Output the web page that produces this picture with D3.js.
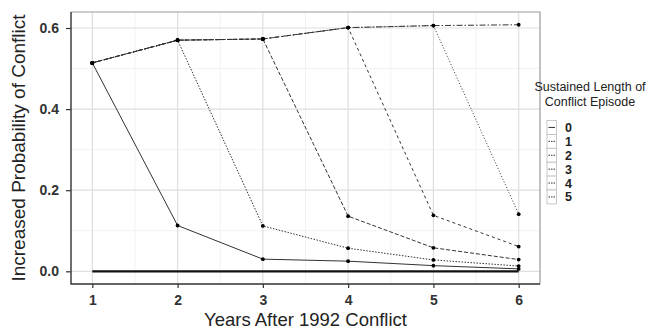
<!DOCTYPE html>
<html>
<head>
<meta charset="utf-8">
<script src="https://cdn.jsdelivr.net/npm/d3@7"></script>
<style>
  body { margin: 0; background: #fff; }
  text { font-family: "Liberation Sans", Arial, sans-serif; }
</style>
</head>
<body>
<script>
'use strict';

const years = [1, 2, 3, 4, 5, 6];
const yTicks = [0, 0.2, 0.4, 0.6];
const seriesNames = ["0", "1", "2", "3", "4", "5"];
const len0 = [0.514, 0.113, 0.030, 0.025, 0.014, 0.006];
const len1 = [0.514, 0.570, 0.112, 0.057, 0.028, 0.013];
const len2 = [0.514, 0.570, 0.573, 0.136, 0.058, 0.029];
const len3 = [0.514, 0.570, 0.573, 0.601, 0.138, 0.061];
const len4 = [0.514, 0.570, 0.573, 0.601, 0.606, 0.141];
const len5 = [0.514, 0.570, 0.573, 0.601, 0.606, 0.608];
const baseline = [0, 0, 0, 0, 0, 0];

(function() {
    const m = { width: 646, height: 331, left: 71, right: 540, top: 12, bottom: 284 };
    const allSeries = [len0, len1, len2, len3, len4, len5];
    const dashes = [null, "1.5,1.5", "4,2", "3,3", "1,2", "6,2,1.5,2"];
    const lineCol = "#333";

    const svg = d3.select('body').append('svg')
        .attr('width', m.width)
        .attr('height', m.height);

    const x = d3.scaleLinear().domain([0.75, 6.25]).range([m.left, m.right]);
    const y = d3.scaleLinear().domain([-0.0313, 0.6395]).range([m.bottom, m.top]);

    // minor grid
    const xMinor = [1.5, 2.5, 3.5, 4.5, 5.5];
    const yMinor = [0.1, 0.3, 0.5];
    svg.append('g').selectAll('line').data(xMinor).enter().append('line')
        .attr('x1', d => x(d)).attr('x2', d => x(d))
        .attr('y1', m.top).attr('y2', m.bottom)
        .attr('stroke', '#f2f2f2').attr('stroke-width', 1);
    svg.append('g').selectAll('line').data(yMinor).enter().append('line')
        .attr('y1', d => y(d)).attr('y2', d => y(d))
        .attr('x1', m.left).attr('x2', m.right)
        .attr('stroke', '#f2f2f2').attr('stroke-width', 1);

    // major grid
    svg.append('g').selectAll('line').data(years).enter().append('line')
        .attr('x1', d => x(d)).attr('x2', d => x(d))
        .attr('y1', m.top).attr('y2', m.bottom)
        .attr('stroke', '#dedede').attr('stroke-width', 1.2);
    svg.append('g').selectAll('line').data(yTicks).enter().append('line')
        .attr('y1', d => y(d)).attr('y2', d => y(d))
        .attr('x1', m.left).attr('x2', m.right)
        .attr('stroke', '#dedede').attr('stroke-width', 1.2);

    // panel border (top/right)
    svg.append('path')
        .attr('d', `M${m.left},${m.top}H${m.right}V${m.bottom}`)
        .attr('fill', 'none').attr('stroke', '#999').attr('stroke-width', 1.2);

    // baseline
    const line = d3.line().x((d, i) => x(years[i])).y(d => y(d));
    svg.append('path')
        .datum(baseline)
        .attr('d', line)
        .attr('fill', 'none')
        .attr('stroke', '#111')
        .attr('stroke-width', 2.2);

    // series lines
    allSeries.forEach((s, k) => {
        svg.append('path')
            .datum(s)
            .attr('d', line)
            .attr('fill', 'none')
            .attr('stroke', lineCol)
            .attr('stroke-width', 1)
            .attr('stroke-dasharray', dashes[k]);
    });

    // points
    allSeries.forEach((s) => {
        svg.append('g').selectAll('circle').data(s).enter().append('circle')
            .attr('cx', (d, i) => x(years[i]))
            .attr('cy', d => y(d))
            .attr('r', 1.9)
            .attr('fill', '#000');
    });

    // axes
    const xAxis = d3.axisBottom(x).tickValues(years).tickSize(4).tickPadding(7).tickFormat(d3.format('d'));
    const gx = svg.append('g')
        .attr('transform', 'translate(0,' + m.bottom + ')')
        .call(xAxis);
    const yAxis = d3.axisLeft(y).tickValues(yTicks).tickSize(5).tickPadding(7).tickFormat(d3.format('.1f'));
    const gy = svg.append('g')
        .attr('transform', 'translate(' + m.left + ',0)')
        .call(yAxis);
    [gx, gy].forEach(g => {
        g.select('.domain').remove();
        g.selectAll('.tick line').attr('stroke', '#333').attr('stroke-width', 1.2);
        g.selectAll('.tick text')
            .attr('fill', '#333')
            .style('font-size', '14px')
            .style('font-weight', 'bold');
    });
    svg.append('path')
        .attr('d', `M${m.left},${m.top}V${m.bottom}H${m.right}`)
        .attr('fill', 'none').attr('stroke', '#333').attr('stroke-width', 1.4);

    // axis titles
    svg.append('text')
        .attr('x', (m.left + m.right) / 2)
        .attr('y', 326)
        .attr('text-anchor', 'middle')
        .attr('fill', '#222')
        .style('font-size', '18.5px')
        .text('Years After 1992 Conflict');
    svg.append('text')
        .attr('transform', 'translate(25,' + (m.top + m.bottom) / 2 + ')rotate(-90)')
        .attr('text-anchor', 'middle')
        .attr('fill', '#222')
        .style('font-size', '19px')
        .text('Increased Probability of Conflict');

    // legend
    const lg = svg.append('g');
    lg.append('text').attr('x', 590).attr('y', 91).attr('text-anchor', 'middle')
        .attr('fill', '#222').style('font-size', '12.5px').text('Sustained Length of');
    lg.append('text').attr('x', 590).attr('y', 106).attr('text-anchor', 'middle')
        .attr('fill', '#222').style('font-size', '12.5px').text('Conflict Episode');
    const keyH = 13.9, keyTop = 120.5;
    seriesNames.forEach((nm, k) => {
        const ky = keyTop + k * keyH;
        lg.append('rect').attr('x', 547).attr('y', ky).attr('width', 9.5).attr('height', keyH)
            .attr('fill', '#fff').attr('stroke', '#bbb').attr('stroke-width', 0.8);
        lg.append('line').attr('x1', 548.5).attr('x2', 555).attr('y1', ky + keyH / 2).attr('y2', ky + keyH / 2)
            .attr('stroke', lineCol).attr('stroke-width', 1).attr('stroke-dasharray', dashes[k] ? '1.5,1' : null);
        lg.append('text').attr('x', 565).attr('y', ky + keyH / 2 + 4.5)
            .attr('fill', '#222').style('font-size', '12.5px').style('font-weight', 'bold').text(nm);
    });
})();
</script>
</body>
</html>
